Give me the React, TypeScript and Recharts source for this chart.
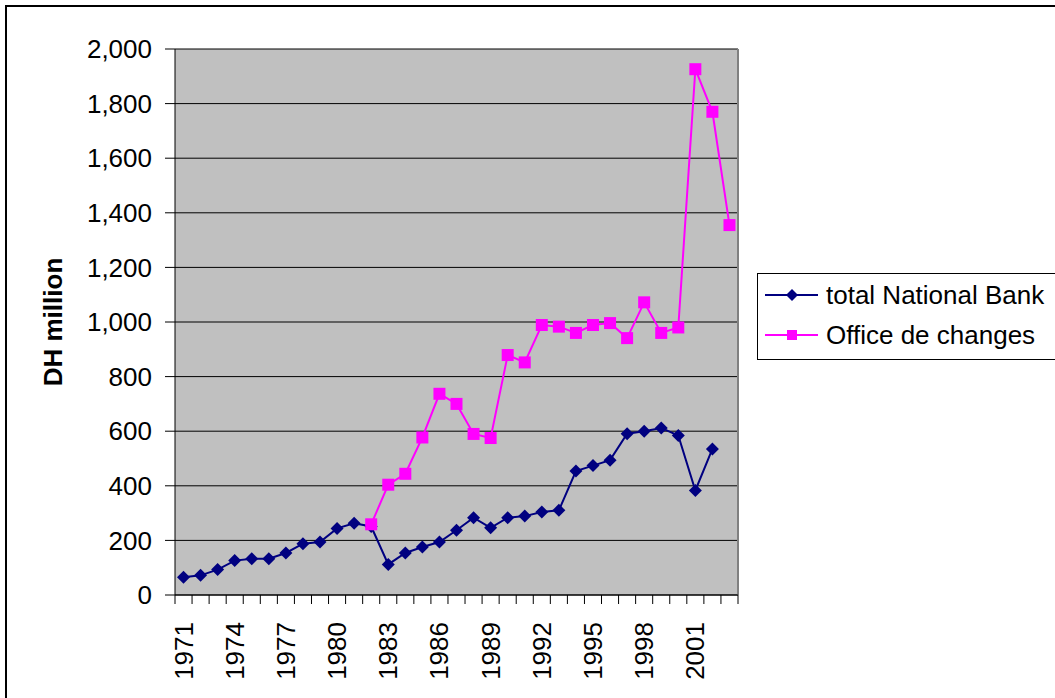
import React from "react";
import { LineChart, Line, XAxis, YAxis, CartesianGrid, Legend, Label } from "recharts";

const years = [
  "1971", "1972", "1973", "1974", "1975", "1976", "1977", "1978", "1979", "1980",
  "1981", "1982", "1983", "1984", "1985", "1986", "1987", "1988", "1989", "1990",
  "1991", "1992", "1993", "1994", "1995", "1996", "1997", "1998", "1999", "2000",
  "2001", "2002", "2003",
];

// DH million
const nationalBank = [
  65, 72, 93, 126, 133, 133, 154, 188, 194, 244,
  263, 251, 112, 154, 176, 194, 237, 283, 246, 283,
  289, 304, 310, 454, 474, 494, 591, 600, 612, 584,
  383, 535, null,
];

const officeChanges = [
  null, null, null, null, null, null, null, null, null, null,
  null, 259, 404, 444, 577, 737, 700, 590, 575, 879,
  852, 989, 983, 960, 989, 996, 941, 1072, 960, 980,
  1926, 1770, 1355,
];

const yTicks = [0, 200, 400, 600, 800, 1000, 1200, 1400, 1600, 1800, 2000];

const data = years.map((year, i) => ({
  year,
  bank: nationalBank[i],
  office: officeChanges[i],
}));

const FONT = '"Liberation Sans", Arial, sans-serif';
const NAVY = "#000080";
const MAGENTA = "#FF00FF";
const PLOT_W = 563;
const BAND = PLOT_W / years.length;

function Diamond(props: any) {
  const { cx, cy, index } = props;
  if (cx == null || cy == null || props.value == null) return <g key={index} />;
  const r = 6.5;
  return (
    <polygon
      key={index}
      points={`${cx},${cy - r} ${cx + r},${cy} ${cx},${cy + r} ${cx - r},${cy}`}
      fill={NAVY}
    />
  );
}

function Square(props: any) {
  const { cx, cy, index } = props;
  if (cx == null || cy == null || props.value == null) return <g key={index} />;
  return <rect key={index} x={cx - 6} y={cy - 6} width={12} height={12} fill={MAGENTA} />;
}

function XTick(props: any) {
  const { x, y, payload } = props;
  const i = payload.index;
  const last = i === years.length - 1;
  return (
    <g>
      <line x1={x - BAND / 2} y1={y} x2={x - BAND / 2} y2={y + 9} stroke="#000" />
      {last && <line x1={x + BAND / 2} y1={y} x2={x + BAND / 2} y2={y + 9} stroke="#000" />}
      {i % 3 === 0 && (
        <text
          x={x}
          y={y + 27}
          transform={`rotate(-90 ${x} ${y + 27})`}
          textAnchor="end"
          dominantBaseline="central"
          fontSize={26}
          fontFamily={FONT}
          fill="#000"
        >
          {payload.value}
        </text>
      )}
    </g>
  );
}

function LegendBox() {
  return (
    <svg width={300} height={88} style={{ display: "block" }}>
      <rect x={0.5} y={0.5} width={320} height={86} fill="#fff" stroke="#000" />
      <line x1={8} y1={22} x2={61} y2={22} stroke={NAVY} strokeWidth={2} />
      <polygon points="35,16 41,22 35,28 29,22" fill={NAVY} />
      <text x={69} y={22} dominantBaseline="central" fontSize={26} fontFamily={FONT} fill="#000">
        total National Bank
      </text>
      <line x1={8} y1={62} x2={61} y2={62} stroke={MAGENTA} strokeWidth={2} />
      <rect x={30} y={57} width={10} height={10} fill={MAGENTA} />
      <text x={69} y={62} dominantBaseline="central" fontSize={26} fontFamily={FONT} fill="#000">
        Office de changes
      </text>
    </svg>
  );
}

export default function App() {
  return (
    <div
      style={{
        position: "absolute",
        left: 0,
        top: 0,
        width: 1055,
        height: 698,
        overflow: "hidden",
        background: "#fff",
        fontFamily: FONT,
      }}
    >
      <div
        style={{
          position: "absolute",
          left: 5,
          top: 5,
          width: 1200,
          height: 800,
          border: "2px solid #000",
        }}
      />
      <div style={{ position: "absolute", left: 0, top: 0 }}>
        <LineChart
          width={1055}
          height={698}
          data={data}
          margin={{ top: 49, right: 317, bottom: 0, left: 0 }}
        >
          <CartesianGrid vertical={false} stroke="#000" fill="#C0C0C0" />
          <CartesianGrid horizontal={false} verticalPoints={[175 + PLOT_W]} stroke="#808080" strokeWidth={2} />
          <XAxis
            dataKey="year"
            height={103}
            interval={0}
            padding={{ left: BAND / 2, right: BAND / 2 }}
            tickSize={0}
            tickMargin={0}
            tickLine={false}
            axisLine={{ stroke: "#000" }}
            tick={<XTick />}
          />
          <YAxis
            width={175}
            domain={[0, 2000]}
            ticks={yTicks}
            interval={0}
            tickSize={10}
            tickMargin={13}
            axisLine={{ stroke: "#000" }}
            tickLine={{ stroke: "#000" }}
            tick={{ fill: "#000", fontSize: 26, fontFamily: FONT }}
            tickFormatter={(v: number) => v.toLocaleString("en-US")}
          >
            <Label
              content={() => (
                <text
                  x={53}
                  y={322}
                  transform="rotate(-90 53 322)"
                  textAnchor="middle"
                  dominantBaseline="central"
                  fontSize={26}
                  fontWeight="bold"
                  fontFamily={FONT}
                  fill="#000"
                >
                  DH million
                </text>
              )}
            />
          </YAxis>
          <Legend
            layout="horizontal"
            verticalAlign="middle"
            align="center"
            wrapperStyle={{ left: 757, top: 273, width: 300, height: 88 }}
            content={() => <LegendBox />}
          />
          <Line
            dataKey="bank"
            name="total National Bank"
            stroke={NAVY}
            strokeWidth={2}
            dot={<Diamond />}
            activeDot={false}
            isAnimationActive={false}
          />
          <Line
            dataKey="office"
            name="Office de changes"
            stroke={MAGENTA}
            strokeWidth={2}
            dot={<Square />}
            activeDot={false}
            isAnimationActive={false}
          />
        </LineChart>
      </div>
    </div>
  );
}
